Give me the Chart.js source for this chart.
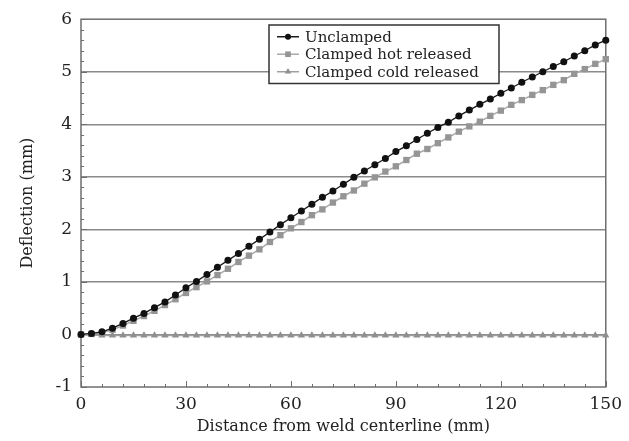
<!DOCTYPE html>
<html>
<head>
<meta charset="utf-8">
<script src="https://cdn.jsdelivr.net/npm/chart.js@4.4.1/dist/chart.umd.min.js"></script>
<style>
  html, body { margin: 0; padding: 0; background: #fff; }
  #wrap { width: 629px; height: 441px; }
</style>
</head>
<body>
<div id="wrap"><canvas id="deflectionChart"></canvas></div>
<script>
// distance from the weld centerline (mm)
const distance = [0, 3, 6, 9, 12, 15, 18, 21, 24, 27, 30, 33, 36, 39, 42, 45, 48, 51, 54, 57,
  60, 63, 66, 69, 72, 75, 78, 81, 84, 87, 90, 93, 96, 99, 102, 105, 108, 111, 114, 117,
  120, 123, 126, 129, 132, 135, 138, 141, 144, 147, 150];

// deflection (mm)
const unclamped = [0, 0.02, 0.05, 0.12, 0.21, 0.31, 0.40, 0.51, 0.62, 0.75, 0.89, 1.01, 1.14, 1.28, 1.41, 1.54, 1.68, 1.81, 1.95, 2.09,
  2.22, 2.35, 2.48, 2.61, 2.73, 2.86, 2.99, 3.11, 3.23, 3.35, 3.48, 3.59, 3.71, 3.83, 3.94, 4.04, 4.16, 4.27, 4.38, 4.48,
  4.59, 4.69, 4.80, 4.90, 5.00, 5.10, 5.19, 5.30, 5.40, 5.51, 5.60];
const hotReleased = [0, 0.01, 0.03, 0.09, 0.17, 0.26, 0.35, 0.45, 0.56, 0.67, 0.79, 0.90, 1.01, 1.13, 1.25, 1.38, 1.50, 1.62, 1.76, 1.89,
  2.02, 2.14, 2.27, 2.38, 2.51, 2.63, 2.74, 2.87, 2.99, 3.10, 3.20, 3.32, 3.44, 3.53, 3.64, 3.75, 3.86, 3.96, 4.05, 4.16,
  4.26, 4.37, 4.46, 4.56, 4.65, 4.75, 4.84, 4.96, 5.05, 5.15, 5.24];
const coldReleased = [0, -0.01, -0.02, -0.02, -0.02, -0.02, -0.02, -0.02, -0.02, -0.02, -0.02, -0.02, -0.02, -0.02, -0.02, -0.02, -0.02, -0.02, -0.02, -0.02,
  -0.02, -0.02, -0.02, -0.02, -0.02, -0.02, -0.02, -0.02, -0.02, -0.02, -0.02, -0.02, -0.02, -0.02, -0.02, -0.02, -0.02, -0.02, -0.02, -0.02,
  -0.02, -0.02, -0.02, -0.02, -0.02, -0.02, -0.02, -0.02, -0.02, -0.02, -0.02];

const seriesLabels = ["Unclamped", "Clamped hot released", "Clamped cold released"];
const xTickValues = [0, 30, 60, 90, 120, 150];
const yTickValues = [-1, 0, 1, 2, 3, 4, 5, 6];

const FONT = "'DejaVu Serif', 'Liberation Serif', serif";

function toPoints(ys) {
    return distance.map((d, i) => ({ x: d, y: ys[i] }));
}

// frame round the plot, with inward major/minor ticks on left and bottom
const frameTicks = {
    id: 'frameTicks',
    beforeDatasetsDraw(chart) {
        const { ctx, chartArea: a, scales: { x, y } } = chart;
        ctx.save();
        ctx.strokeStyle = '#6f6f6f';
        ctx.lineWidth = 1.5;
        ctx.strokeRect(a.left, a.top, a.right - a.left, a.bottom - a.top);

        ctx.lineWidth = 1;
        ctx.beginPath();
        for (let v = x.min; v <= x.max + 0.001; v += 6) {
            const px = Math.round(x.getPixelForValue(v)) + 0.5;
            const len = (v % 30 === 0) ? 6 : 3;
            ctx.moveTo(px, a.bottom);
            ctx.lineTo(px, a.bottom - len);
        }
        for (let v = y.min; v <= y.max + 0.001; v += 0.2) {
            const py = Math.round(y.getPixelForValue(v)) + 0.5;
            const major = Math.abs(v - Math.round(v)) < 0.01;
            ctx.moveTo(a.left, py);
            ctx.lineTo(a.left + (major ? 6 : 3), py);
        }
        ctx.stroke();
        ctx.restore();
    }
};

// boxed legend sitting inside the plot, line sample with marker in the middle
const boxLegend = {
    id: 'boxLegend',
    afterDraw(chart, args, opts) {
        const ctx = chart.ctx;
        const { left, top, width, rowHeight } = opts;
        const n = chart.data.datasets.length;
        ctx.save();
        ctx.fillStyle = '#fff';
        ctx.fillRect(left, top, width, rowHeight * n + 6);
        ctx.strokeStyle = '#333';
        ctx.lineWidth = 1.5;
        ctx.strokeRect(left, top, width, rowHeight * n + 6);
        chart.data.datasets.forEach((ds, i) => {
            const cy = top + 3 + rowHeight * (i + 0.5);
            ctx.strokeStyle = ds.borderColor;
            ctx.lineWidth = 1.5;
            ctx.beginPath();
            ctx.moveTo(left + 8, cy);
            ctx.lineTo(left + 30, cy);
            ctx.stroke();
            ctx.fillStyle = ds.pointBackgroundColor;
            ctx.strokeStyle = ds.pointBorderColor;
            Chart.helpers.drawPoint(ctx, { pointStyle: ds.pointStyle, radius: ds.pointRadius - 0.5, borderWidth: 0, rotation: 0 }, left + 19, cy);
            ctx.fillStyle = '#222';
            ctx.font = '15px ' + FONT;
            ctx.textBaseline = 'middle';
            ctx.fillText(ds.label, left + 36, cy + 1);
        });
        ctx.restore();
    }
};

new Chart(document.getElementById('deflectionChart'), {
    type: 'line',
    data: {
        datasets: [
            {
                label: seriesLabels[0],
                data: toPoints(unclamped),
                borderColor: '#1a1a1a',
                borderWidth: 1.3,
                pointStyle: 'circle',
                pointRadius: 3.5,
                pointBorderWidth: 0,
                pointBackgroundColor: '#111',
                pointBorderColor: '#111',
                clip: false
            },
            {
                label: seriesLabels[1],
                data: toPoints(hotReleased),
                borderColor: '#a8a8a8',
                borderWidth: 1.5,
                pointStyle: 'rect',
                pointRadius: 4.5,
                pointBorderWidth: 0,
                pointBackgroundColor: '#959595',
                pointBorderColor: '#959595',
                clip: false
            },
            {
                label: seriesLabels[2],
                data: toPoints(coldReleased),
                borderColor: '#a0a0a0',
                borderWidth: 1.5,
                pointStyle: 'triangle',
                pointRadius: 4.2,
                pointBorderWidth: 0,
                pointBackgroundColor: '#8f8f8f',
                pointBorderColor: '#8f8f8f',
                clip: false
            }
        ]
    },
    options: {
        responsive: true,
        maintainAspectRatio: false,
        animation: false,
        layout: { padding: { top: 18, right: 20, left: 0, bottom: 0 } },
        elements: { line: { tension: 0 } },
        plugins: {
            legend: { display: false },
            tooltip: { enabled: false },
            boxLegend: { left: 269, top: 25, width: 230, rowHeight: 17.5 }
        },
        scales: {
            x: {
                type: 'linear',
                min: 0,
                max: 150,
                afterBuildTicks: (s) => { s.ticks = xTickValues.map(v => ({ value: v })); },
                afterFit: (s) => { s.height = 54; },
                grid: { display: false, drawTicks: false },
                border: { display: false },
                ticks: { padding: 7, color: '#222', font: { family: FONT, size: 17 } },
                title: {
                    display: true,
                    text: 'Distance from weld centerline (mm)',
                    color: '#222',
                    font: { family: FONT, size: 16 },
                    padding: { top: 0, bottom: 5 }
                }
            },
            y: {
                min: -1,
                max: 6,
                afterBuildTicks: (s) => { s.ticks = yTickValues.map(v => ({ value: v })); },
                afterFit: (s) => { s.width = 81; },
                grid: {
                    drawTicks: false,
                    lineWidth: 1.5,
                    color: (c) => (c.tick && (c.tick.value === -1 || c.tick.value === 6)) ? 'rgba(0,0,0,0)' : '#8a8a8a'
                },
                border: { display: false },
                ticks: { padding: 9, color: '#222', font: { family: FONT, size: 17 } },
                title: {
                    display: true,
                    text: 'Deflection (mm)',
                    color: '#222',
                    font: { family: FONT, size: 16 },
                    padding: { top: 18, bottom: 0 }
                }
            }
        }
    },
    plugins: [frameTicks, boxLegend]
});
</script>
</body>
</html>
